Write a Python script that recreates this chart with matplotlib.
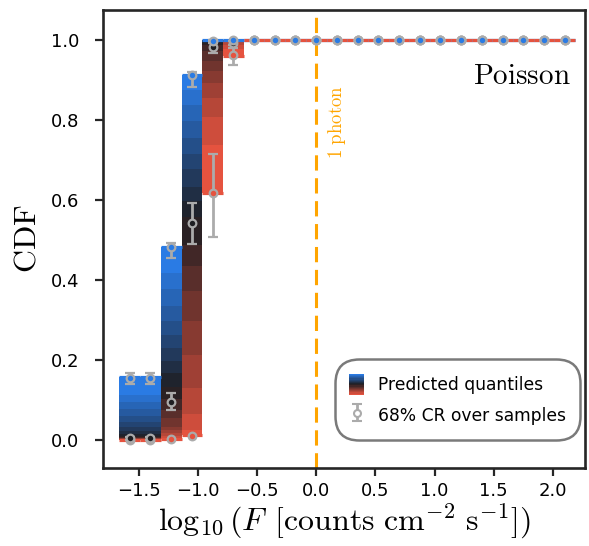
import matplotlib
matplotlib.use("Agg")
import matplotlib.pyplot as plt
import numpy as np
from matplotlib.colors import LinearSegmentedColormap
from matplotlib.legend_handler import HandlerBase
from matplotlib.patches import Rectangle

# bin centres in log10(F)
log_flux = [-1.575, -1.4, -1.225, -1.05, -0.875, -0.7, -0.525, -0.35, -0.175, 0.0, 0.175,
            0.35, 0.525, 0.7, 0.875, 1.05, 1.225, 1.4, 1.575, 1.75, 1.925, 2.1]
bin_width = 0.175

# predicted quantiles of the CDF per bin (bottom -> top), 19 levels
quantile_edges = [
    [0.0, 0.0005, 0.001, 0.002, 0.003, 0.004, 0.005, 0.006, 0.008, 0.011, 0.015, 0.023,
     0.033, 0.046, 0.06, 0.077, 0.096, 0.1125, 0.158],
    [0.0, 0.0005, 0.001, 0.002, 0.003, 0.004, 0.005, 0.006, 0.008, 0.011, 0.015, 0.023,
     0.033, 0.046, 0.06, 0.077, 0.096, 0.1125, 0.158],
    [0.003, 0.006, 0.01, 0.017, 0.025, 0.033, 0.054, 0.075, 0.102, 0.133, 0.168, 0.198,
     0.229, 0.2625, 0.298, 0.335, 0.377, 0.417, 0.482],
    [0.0125, 0.025, 0.065, 0.129, 0.211, 0.298, 0.373, 0.435, 0.4875, 0.558, 0.596, 0.633,
     0.677, 0.715, 0.754, 0.796, 0.836, 0.875, 0.911],
    [0.617, 0.7375, 0.807, 0.854, 0.892, 0.921, 0.946, 0.971, 0.9875, 0.993, 0.996, 0.998,
     0.999, 0.9995, 1.0, 1.0, 1.0, 1.0, 1.0],
    [0.96, 0.978, 0.988, 0.994, 0.997, 0.999, 1.0, 1.0, 1.0, 1.0, 1.0, 1.0,
     1.0, 1.0, 1.0, 1.0, 1.0, 1.0, 1.0],
] + [[1.0] * 19 for _ in range(16)]

# 68% credible regions over samples
upper_val = [0.155, 0.155, 0.482, 0.911, 0.998, 1.0] + [1.0] * 16
upper_lo = [0.015, 0.015, 0.028, 0.028, 0.004, 0.0] + [0.0] * 16
upper_hi = [0.013, 0.013, 0.011, 0.009, 0.002, 0.0] + [0.0] * 16

median_val = [0.004, 0.004, 0.096, 0.542, 0.983, 0.992] + [1.0] * 16
median_lo = [0.003, 0.003, 0.021, 0.053, 0.015, 0.006] + [0.0] * 16
median_hi = [0.003, 0.003, 0.021, 0.051, 0.01, 0.005] + [0.0] * 16

lower_val = [0.0, 0.0, 0.002, 0.01, 0.617, 0.9625] + [1.0] * 16
lower_lo = [0.0, 0.0, 0.0, 0.0, 0.11, 0.025] + [0.0] * 16
lower_hi = [0.0, 0.0, 0.0, 0.0, 0.098, 0.017] + [0.0] * 16

BLUE = "#2a7be4"
RED = "#e5533f"
DARK = "#1e1e22"
GREY = "#ababab"

cmap = LinearSegmentedColormap.from_list("q", [RED, DARK, BLUE])


class GradientHandler(HandlerBase):
    def __init__(self, cmap, n=18):
        super().__init__()
        self.cmap = cmap
        self.n = n

    def create_artists(self, legend, orig_handle, xdescent, ydescent, width, height,
                       fontsize, trans):
        h = height / self.n
        rects = []
        for j in range(self.n):
            rects.append(Rectangle((-xdescent, -ydescent + j * h), width, h,
                                   facecolor=self.cmap(j / (self.n - 1)),
                                   edgecolor="none", transform=trans))
        return rects


plt.rcParams["mathtext.fontset"] = "cm"
plt.rcParams["font.family"] = "DejaVu Sans"

fig = plt.figure(figsize=(5.89, 5.46), dpi=100)
ax = fig.add_axes([0.175, 0.143, 0.818, 0.839])

x = np.array(log_flux)
edges = np.array(quantile_edges)
n_bands = edges.shape[1] - 1

for j in range(n_bands):
    ax.bar(x, edges[:, j + 1] - edges[:, j], bottom=edges[:, j], width=bin_width,
           color=cmap(j / (n_bands - 1)), linewidth=0, zorder=1)

ax.hlines(edges[:, -1], x - bin_width / 2, x + bin_width / 2, color=BLUE, lw=2.3, zorder=2)
ax.hlines(edges[:, 0], x - bin_width / 2, x + bin_width / 2, color=RED, lw=2.3, zorder=2)

ax.axvline(0.0, color="orange", lw=2.2, ls=(0, (5, 2.5)), zorder=2)


def draw_points(vals, lo, hi, face, z):
    vals = np.array(vals)
    lo = np.array(lo)
    hi = np.array(hi)
    has_err = (lo + hi) > 0
    ax.errorbar(x[has_err], vals[has_err], yerr=[lo[has_err], hi[has_err]], fmt="o",
                color=GREY, ecolor=GREY, mfc=face, mec=GREY, ms=5.5, mew=1.6,
                elinewidth=2, capsize=3.5, capthick=2, zorder=z)
    ax.plot(x[~has_err], vals[~has_err], "o", mfc=face, mec=GREY, ms=5.5, mew=1.6,
            zorder=z)


draw_points(lower_val, lower_lo, lower_hi, RED, 3)
draw_points(median_val, median_lo, median_hi, DARK, 4)
draw_points(upper_val, upper_lo, upper_hi, BLUE, 5)

# legend proxy for the credible region
cr = ax.errorbar([10], [10], yerr=[[0.1]], fmt="o", color=GREY, ecolor=GREY, mfc="white",
                 mec=GREY, ms=5, mew=1.5, elinewidth=2, capsize=3.5, capthick=2)
grad = Rectangle((0, 0), 1, 1)

leg = ax.legend([grad, cr], ["Predicted quantiles", "68% CR over samples"],
                handler_map={Rectangle: GradientHandler(cmap)},
                loc="lower right", bbox_to_anchor=(0.999, 0.051), fontsize=12.3,
                handlelength=0.85, handleheight=1.5, labelspacing=0.6,
                borderpad=0.6, borderaxespad=0.5, handletextpad=0.8,
                fancybox=True, framealpha=1)
leg.get_frame().set_edgecolor("#7a7a7a")
leg.get_frame().set_linewidth(1.8)
leg.get_frame().set_boxstyle("round", pad=0.25, rounding_size=1.4)

ax.text(0.18, 0.795, r"$\mathrm{1\ photon}$", rotation=90, color="orange",
        fontsize=13.5, ha="center", va="center")
ax.text(0.97, 0.856, r"$\mathrm{Poisson}$", transform=ax.transAxes, fontsize=21,
        ha="right", va="center")

ax.set_xlim(-1.8, 2.27)
ax.set_ylim(-0.07, 1.075)
ax.set_xticks([-1.5, -1.0, -0.5, 0.0, 0.5, 1.0, 1.5, 2.0])
ax.set_yticks([0.0, 0.2, 0.4, 0.6, 0.8, 1.0])
ax.set_xlabel(r"$\log_{10}(F\;\,[\mathrm{counts\ cm^{-2}\ s^{-1}}])$", fontsize=23, labelpad=1)
ax.set_ylabel(r"$\mathrm{CDF}$", fontsize=23, labelpad=6)
ax.tick_params(labelsize=13, length=6, width=1.6, color="#262626", direction="out")
ax.tick_params(axis="y", pad=11)
ax.tick_params(axis="x", pad=4)
for s in ax.spines.values():
    s.set_linewidth(1.9)
    s.set_color("#262626")

fig.savefig("out.png", dpi=100)
